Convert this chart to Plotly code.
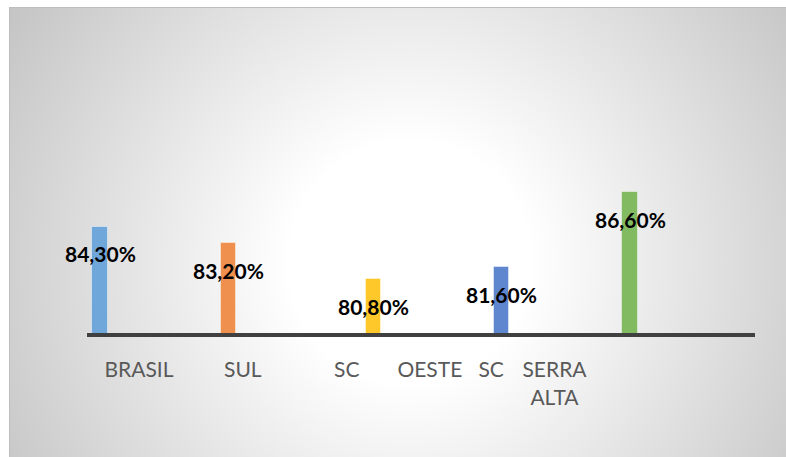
import base64
import plotly.graph_objects as go

# ---- data ----
categories = ["BRASIL", "SUL", "SC", "OESTE   SC", "SERRA ALTA"]
values = [84.3, 83.2, 80.8, 81.6, 86.6]
tick_labels = ["BRASIL", "SUL", "SC", "OESTE\u00a0\u00a0\u00a0SC", "SERRA<br>ALTA"]
value_labels = [f"{v:.2f}%".replace(".", ",") for v in values]

# ---- style ----
bar_colors = ["#6FA7DB", "#F0904F", "#FFC82A", "#5E87D0", "#82BA62"]
bar_shift = [-0.374, -0.138, 0.258, 0.491, 0.727]  # bar position within each category slot
bar_width = 0.15

W, H = 786, 457
ML, MR, MT, MB = 87, 31, 40, 124
pw, ph = W - ML - MR, H - MT - MB

x_idx = list(range(len(categories)))
x_pos = [i + s for i, s in zip(x_idx, bar_shift)]

fig = go.Figure()
fig.add_trace(go.Bar(
    x=x_pos, y=values, width=bar_width,
    marker=dict(color=bar_colors, line=dict(color="rgba(255,255,255,0.45)", width=1)),
    hoverinfo="skip", showlegend=False,
))

for xp, v, lab in zip(x_pos, values, value_labels):
    fig.add_annotation(x=xp, y=v, text=lab, showarrow=False, yshift=-27,
                       font=dict(family="Lato", size=21, color="#000000", weight="bold"))

# radial gradient background panel (starts a few px in from the top-left)
px0, py0 = 9, 7
gw, gh = W - px0, H - py0
svg = (f'<svg xmlns="http://www.w3.org/2000/svg" width="{gw}" height="{gh}" viewBox="0 0 {gw} {gh}" preserveAspectRatio="none">'
       f'<defs><radialGradient id="g" cx="{410 - px0}" cy="{262 - py0}" r="500" gradientUnits="userSpaceOnUse">'
       '<stop offset="0" stop-color="#ffffff"/><stop offset="0.24" stop-color="#ffffff"/>'
       '<stop offset="1" stop-color="#c0c0c0"/></radialGradient></defs>'
       f'<rect x="0" y="0" width="{gw}" height="{gh}" fill="url(#g)"/>'
       f'<path d="M0.5 {gh} L0.5 0.5 L{gw} 0.5" fill="none" stroke="#bdbdbd" stroke-width="1"/></svg>')
src = "data:image/svg+xml;base64," + base64.b64encode(svg.encode()).decode()
fig.add_layout_image(dict(
    source=src, xref="paper", yref="paper",
    x=(px0 - ML) / pw, y=1 + (MT - py0) / ph,
    sizex=gw / pw, sizey=gh / ph, sizing="stretch",
    xanchor="left", yanchor="top", layer="below",
))

fig.update_layout(
    width=W, height=H,
    margin=dict(l=ML, r=MR, t=MT, b=MB),
    paper_bgcolor="#ffffff", plot_bgcolor="rgba(0,0,0,0)",
    bargap=0,
    xaxis=dict(range=[-0.5, 5.93], tickvals=x_idx, ticktext=tick_labels,
               showgrid=False, zeroline=False, showline=True, linecolor="#404040", linewidth=4,
               ticks="", ticklabelstandoff=15,
               tickfont=dict(family="Lato", size=21, color="#595959"), fixedrange=True),
    yaxis=dict(range=[77.19, 77.19 + ph / 14.95], visible=False, showgrid=False,
               zeroline=False, fixedrange=True),
)

fig.write_html("out.html", config={"displayModeBar": False}, post_script=(
    "document.body.style.margin='0';"
    "document.documentElement.style.overflow='hidden';"
    "document.body.style.overflow='hidden';"))
